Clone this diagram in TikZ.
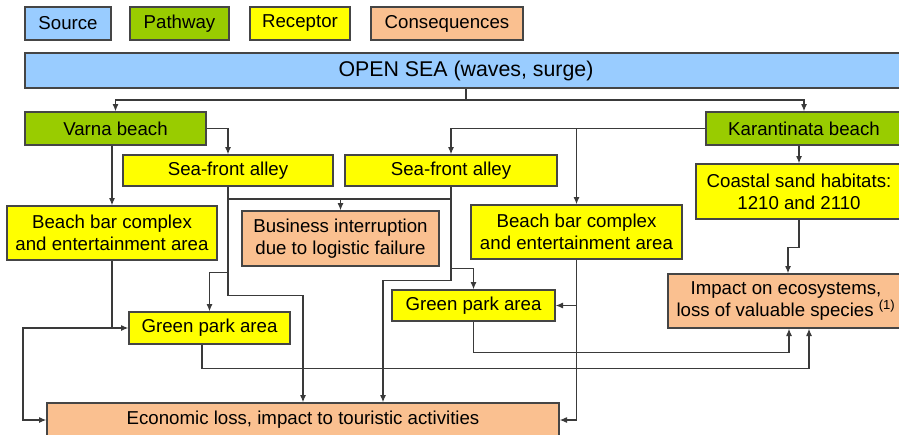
\documentclass[tikz,border=0pt]{standalone}
\usepackage{fontspec}
\setmainfont{Liberation Sans}
\usetikzlibrary{arrows.meta}
\definecolor{seablue}{HTML}{99CCFF}
\definecolor{pathgreen}{HTML}{99CC00}
\definecolor{recyellow}{HTML}{FFFF00}
\definecolor{conpeach}{HTML}{FAC090}
\definecolor{boxline}{HTML}{454545}
\definecolor{linegray}{HTML}{3A3A3A}
\begin{document}
\begin{tikzpicture}[x=0.75pt, y=-0.75pt,
        box/.style={draw=boxline, line width=1pt, inner sep=0pt, align=center,
            font=\fontsize{14}{16.5}\selectfont},
        srcbox/.style={box, fill=seablue},
        pathbox/.style={box, fill=pathgreen},
        recbox/.style={box, fill=recyellow},
        conbox/.style={box, fill=conpeach},
        arrow/.style={-{Latex[length=5.5pt,width=4.5pt]}, draw=linegray, line width=0.85pt},
        line/.style={draw=linegray, line width=0.85pt}
    ]
    \useasboundingbox (0,0) rectangle (899,435);
    % Legend
    \node[srcbox, minimum width=64.5pt, minimum height=24.75pt] (lsrc) at (68,23.5) {Source};
    \node[pathbox, minimum width=74.25pt, minimum height=24.75pt] (lpth) at (179.5,23.5) {Pathway};
    \node[recbox, minimum width=75pt, minimum height=24.75pt] (lrec) at (300,23.5) {Receptor};
    \node[conbox, minimum width=114pt, minimum height=24.75pt] (lcon) at (447,23.5) {Consequences};
    % Nodes
    \node[srcbox, minimum width=661.5pt, minimum height=26.25pt, font=\fontsize{16}{18}\selectfont] (sea) at (466,70.5) {OPEN SEA (waves, surge)};
    \node[pathbox, minimum width=135.75pt, minimum height=24.75pt] (varna) at (115.5,128.5) {Varna beach};
    \node[pathbox, minimum width=147pt, minimum height=24.75pt] (karan) at (804,128.5) {Karantinata beach};
    \node[recbox, minimum width=157.5pt, minimum height=23.25pt] (alley1) at (228,170.5) {Sea-front alley};
    \node[recbox, minimum width=159pt, minimum height=23.25pt] (alley2) at (451,170.5) {Sea-front alley};
    \node[recbox, minimum width=154.5pt, minimum height=41.25pt] (coast) at (799,191.5) {Coastal sand habitats:\\1210 and 2110};
    \node[recbox, minimum width=157.5pt, minimum height=40.5pt] (bar1) at (112,233) {Beach bar complex\\and entertainment area};
    \node[conbox, minimum width=147.75pt, minimum height=41.25pt] (business) at (340.5,238.5) {Business interruption\\due to logistic failure};
    \node[recbox, minimum width=158.25pt, minimum height=40.5pt] (bar2) at (576.5,232) {Beach bar complex\\and entertainment area};
    \node[conbox, minimum width=177pt, minimum height=40.5pt] (impact) at (786,301) {Impact on ecosystems,\\loss of valuable species \textsuperscript{(1)}};
    \node[recbox, minimum width=120.75pt, minimum height=24pt] (park1) at (209.5,328) {Green park area};
    \node[recbox, minimum width=122.25pt, minimum height=23.25pt] (park2) at (473.5,305.5) {Green park area};
    \node[conbox, minimum width=384pt, minimum height=25.5pt] (econ) at (303,420) {Economic loss, impact to touristic activities};
    % Edges
    \coordinate (seajoin) at (466,100);
    \draw[line] (sea.south -| seajoin) -- (seajoin);
    \draw[arrow] (seajoin) -| (varna.north);
    \draw[arrow] (seajoin) -| (karan.north);
    \draw[arrow] (varna.east) -| (alley1.north);
    \draw[arrow] (varna.south -| bar1.north) -- (bar1.north);
    \draw[arrow] (karan.west) -| (alley2.north);
    \draw[arrow] (karan.west -| bar2.north) -- (bar2.north);
    \draw[arrow] (karan.south -| coast.north) -- (coast.north);
    \draw[arrow] (coast.south) -- ++(0,28) -| ([xshift=1.5pt]impact.north);
    \coordinate (alleyjoin) at (340.5,199);
    \draw[line] (alley1.south) |- (alleyjoin) -| (alley2.south);
    \draw[arrow] (alleyjoin) -- (business.north);
    \draw[arrow] (alley1.south) -- ++(0,109) -| (econ.north);
    \draw[arrow] (alley1.south) ++(0,86) -| (park1.north);
    \draw[arrow] (alley2.south) -- ++(0,94) -| ([xshift=60pt]econ.north);
    \draw[arrow] (alley2.south) ++(0,82) -| (park2.north);
    \draw[arrow] (bar1.south) |- (park1.west);
    \draw[arrow] (bar1.south |- park1.west) -- ++(-89,0) |- (econ.west);
    \draw[arrow] (bar2.south) |- (econ.east);
    \draw[arrow] (bar2.south |- park2.east) -- (park2.east);
    \draw[arrow] ([xshift=-5.6pt]park1.south) -- ++(0,24) -| ([xshift=17.25pt]impact.south);
    \draw[arrow] (park2.south) -- ++(0,31) -| ([xshift=2.25pt]impact.south);
\end{tikzpicture}
\end{document}
